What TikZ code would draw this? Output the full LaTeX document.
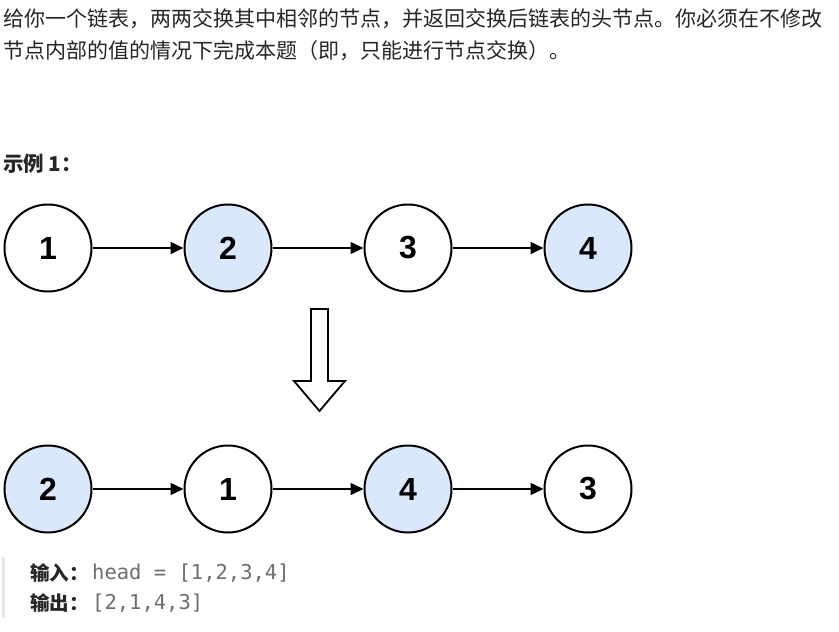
\documentclass[tikz,border=0pt]{standalone}
\usepackage{fontspec}
\setmainfont{Liberation Sans}
\newfontfamily\cjk{Noto Sans CJK SC}
\newfontfamily\codefont{DejaVu Sans Mono}
\newfontfamily\numfont{Liberation Sans}
\usetikzlibrary{arrows.meta}
\definecolor{txt}{HTML}{262626}
\definecolor{codegray}{HTML}{6E6E6E}
\definecolor{nodeblue}{HTML}{DAE8FC}
\definecolor{barcol}{HTML}{E6E6E6}
\begin{document}
\begin{tikzpicture}[x=1pt,y=-1pt,
  lnode/.style={circle,draw=black,line width=2pt,minimum size=87pt,inner sep=0pt,
    font=\numfont\bfseries\fontsize{32}{32}\selectfont},
  bluenode/.style={lnode,fill=nodeblue},
  whitenode/.style={lnode,fill=white},
  link/.style={line width=1.6pt,-{Triangle[length=13pt,width=12pt]}},
  para/.style={anchor=west,inner sep=0pt,text=txt,font=\cjk\fontsize{21}{21}\selectfont},
  code/.style={anchor=west,inner sep=0pt,text=codegray,font=\codefont\fontsize{20.5}{20.5}\selectfont}
]
\useasboundingbox (0,0) rectangle (839,632);
\fill[white] (0,0) rectangle (839,632);

\node[para] (l1) at (3,19) {给你一个链表，两两交换其中相邻的节点，并返回交换后链表的头节点。你必须在不修改};
\node[para] (l2) at (3,51) {节点内部的值的情况下完成本题（即，只能进行节点交换）。};
\node[para,font=\cjk\bfseries\fontsize{20.5}{20.5}\selectfont] (ex) at (3,164) {示例 1：};

% top row
\node[whitenode] (a1) at (48,248) {1};
\node[bluenode]  (a2) at (228,248) {2};
\node[whitenode] (a3) at (408,248) {3};
\node[bluenode]  (a4) at (588,248) {4};
\draw[link] (a1) -- (a2);
\draw[link] (a2) -- (a3);
\draw[link] (a3) -- (a4);

% big hollow arrow
\draw[line width=1.8pt,fill=white,line join=miter]
  (311,309) -- (328,309) -- (328,381) -- (345,381) -- (319.5,411) -- (294,381) -- (311,381) -- cycle;

% bottom row
\node[bluenode]  (b1) at (48,489) {2};
\node[whitenode] (b2) at (228,489) {1};
\node[bluenode]  (b3) at (408,489) {4};
\node[whitenode] (b4) at (588,489) {3};
\draw[link] (b1) -- (b2);
\draw[link] (b2) -- (b3);
\draw[link] (b3) -- (b4);

% quote bar and code
\fill[barcol] (2,557) rectangle (5,618);
\node[para,font=\cjk\bfseries\fontsize{19.5}{19.5}\selectfont] (in) at (30,573) {输入：};
\node[code] (inc) at (92,573) {head = [1,2,3,4]};
\node[para,font=\cjk\bfseries\fontsize{19.5}{19.5}\selectfont] (out) at (30,603) {输出：};
\node[code] (outc) at (92,603) {[2,1,4,3]};
\end{tikzpicture}
\end{document}
